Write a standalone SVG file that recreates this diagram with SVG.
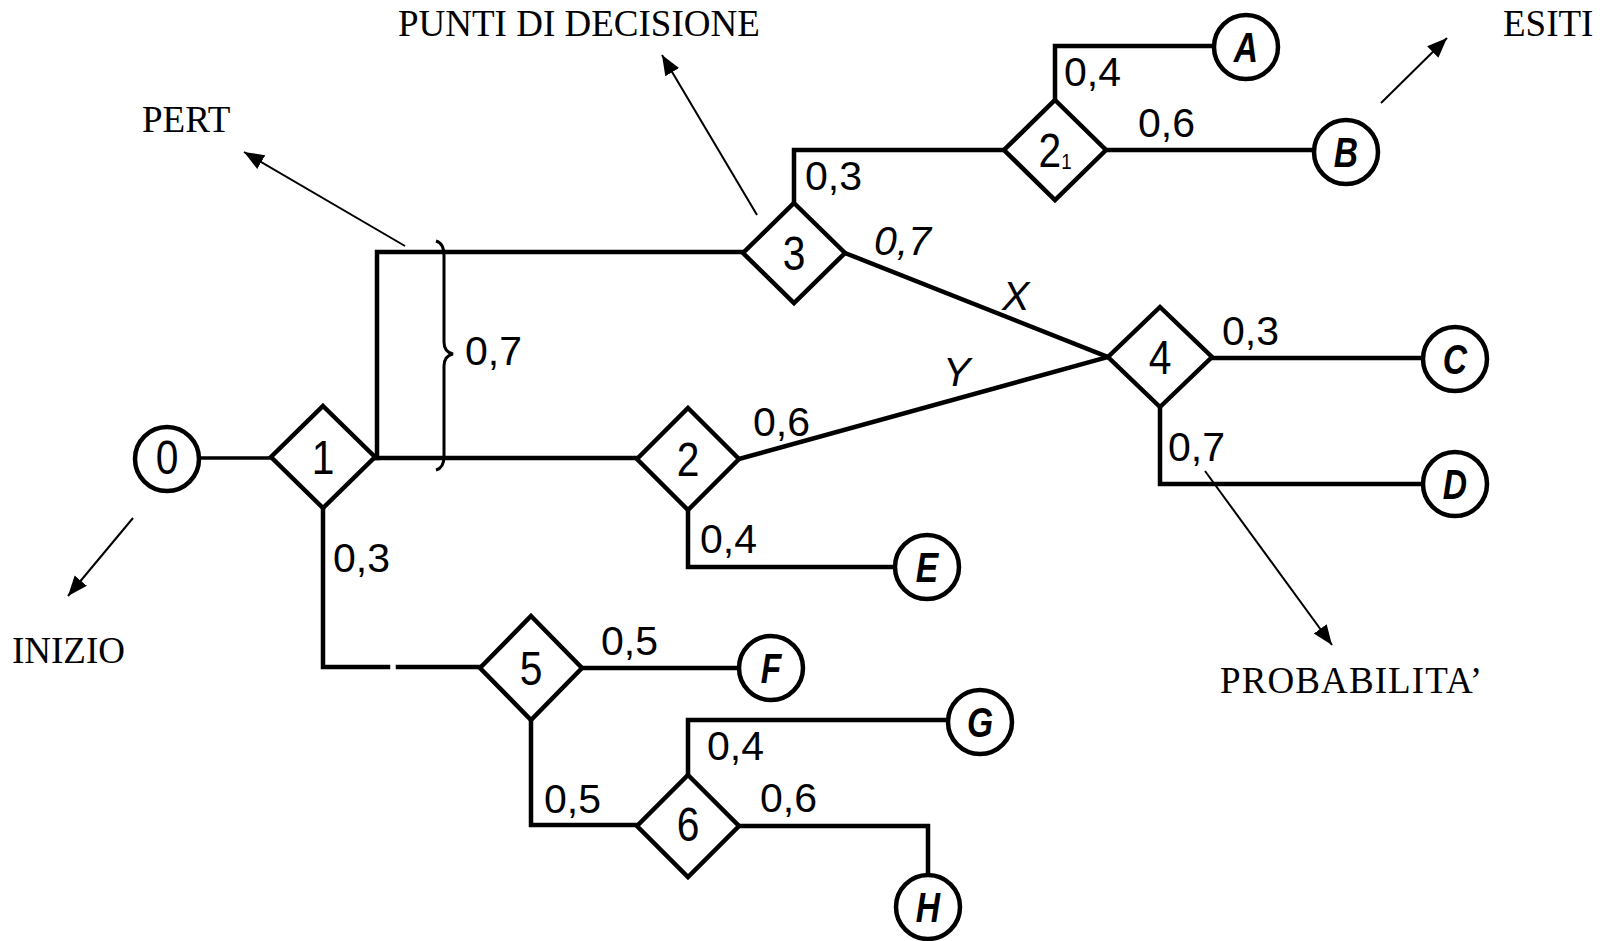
<svg xmlns="http://www.w3.org/2000/svg" width="1611" height="941" viewBox="0 0 1611 941">
<defs>
<marker id="ah" markerUnits="userSpaceOnUse" markerWidth="22" markerHeight="18" refX="20" refY="8" orient="auto">
<path d="M0,0 L20,8 L0,16 z" fill="#000"/>
</marker>
<style>
.ln{fill:none;stroke:#000;stroke-width:4.5;stroke-linejoin:miter;stroke-linecap:square}
.an{fill:none;stroke:#000;stroke-width:2;marker-end:url(#ah)}
.dm{fill:#fff;stroke:#000;stroke-width:4.5}
.cr{fill:#fff;stroke:#000;stroke-width:4.5}
.num{font-family:"Liberation Sans",Arial,sans-serif;font-size:48px;fill:#000;text-anchor:middle}
.let{font-family:"Liberation Sans",Arial,sans-serif;font-size:42px;font-weight:bold;font-style:italic;fill:#000;text-anchor:middle}
.p{font-family:"Liberation Sans",Arial,sans-serif;font-size:41px;fill:#000}
.pi{font-family:"Liberation Sans",Arial,sans-serif;font-size:41px;font-style:italic;fill:#000}
.t{font-family:"Liberation Serif","Times New Roman",serif;font-size:37px;fill:#000}
</style>
</defs>
<rect width="1611" height="941" fill="#fff"/>

<g id="connectors">
<path class="ln" style="stroke-width:3.5" d="M199,458 H271"/>
<path class="ln" d="M375,458 H637"/>
<path class="ln" d="M377,458 V252 H743"/>
<path class="ln" d="M794,203 V150 H1004"/>
<path class="ln" d="M1055,100 V46 H1213"/>
<path class="ln" d="M1106,150 H1314"/>
<path class="ln" d="M845,253 L1108,357"/>
<path class="ln" d="M739,459 L1108,357"/>
<path class="ln" d="M1212,358 H1423"/>
<path class="ln" d="M1160,407 V484 H1423"/>
<path class="ln" d="M688,510 V567 H895"/>
<path class="ln" d="M323,508 V667 H388"/>
<path class="ln" d="M398,667 H480"/>
<path class="ln" d="M582,668 H739"/>
<path class="ln" d="M531,720 V825 H637"/>
<path class="ln" d="M688,775 V720 H948"/>
<path class="ln" d="M739,826 H928 V876"/>
<path fill="none" stroke="#000" stroke-width="3" d="M436,241 Q444,243 444,256 L444,342 Q444,352 453,354 Q444,356 444,366 L444,456 Q444,468 436,470"/>
<line class="an" x1="405" y1="246" x2="244" y2="152"/>
<line class="an" x1="757" y1="215" x2="662" y2="55"/>
<line class="an" x1="1381" y1="103" x2="1447" y2="38"/>
<line class="an" x1="133" y1="518" x2="68" y2="596"/>
<line class="an" x1="1205" y1="471" x2="1332" y2="645"/>
</g>

<g id="n0"><circle class="cr" cx="167" cy="459" r="32"/><text class="num" transform="translate(167,474) scale(0.85,1)" font-size="44">0</text></g>
<g id="d1"><polygon class="dm" points="323,406 375,457 323,508 271,457"/><text class="num" transform="translate(323,474) scale(0.85,1)">1</text></g>
<g id="d2"><polygon class="dm" points="688,408 739,459 688,510 637,459"/><text class="num" transform="translate(688,476) scale(0.85,1)">2</text></g>
<g id="d3"><polygon class="dm" points="794,203 845,253 794,303 743,253"/><text class="num" transform="translate(794,270) scale(0.85,1)">3</text></g>
<g id="d21"><polygon class="dm" points="1055,100 1106,150 1055,200 1004,150"/><text class="num" transform="translate(1055,167) scale(0.85,1)">2<tspan font-size="22" dy="2">1</tspan></text></g>
<g id="d4"><polygon class="dm" points="1160,307 1212,357 1160,407 1108,357"/><text class="num" transform="translate(1160,374) scale(0.85,1)">4</text></g>
<g id="d5"><polygon class="dm" points="531,616 582,668 531,720 480,668"/><text class="num" transform="translate(531,685) scale(0.85,1)">5</text></g>
<g id="d6"><polygon class="dm" points="688,775 739,826 688,877 637,826"/><text class="num" transform="translate(688,841) scale(0.85,1)">6</text></g>

<g id="nA"><circle class="cr" cx="1246" cy="47" r="32"/><text class="let" transform="translate(1246,62) scale(0.8,1)">A</text></g>
<g id="nB"><circle class="cr" cx="1346" cy="152" r="32"/><text class="let" transform="translate(1346,167) scale(0.8,1)">B</text></g>
<g id="nC"><circle class="cr" cx="1455" cy="359" r="32"/><text class="let" transform="translate(1455,374) scale(0.8,1)">C</text></g>
<g id="nD"><circle class="cr" cx="1455" cy="484" r="32"/><text class="let" transform="translate(1455,499) scale(0.8,1)">D</text></g>
<g id="nE"><circle class="cr" cx="927" cy="567" r="32"/><text class="let" transform="translate(927,582) scale(0.8,1)">E</text></g>
<g id="nF"><circle class="cr" cx="771" cy="668" r="32"/><text class="let" transform="translate(771,683) scale(0.8,1)">F</text></g>
<g id="nG"><circle class="cr" cx="980" cy="722" r="32"/><text class="let" transform="translate(980,737) scale(0.8,1)">G</text></g>
<g id="nH"><circle class="cr" cx="928" cy="907" r="32"/><text class="let" transform="translate(928,922) scale(0.8,1)">H</text></g>

<g id="labels">
<text class="p" x="465" y="365">0,7</text>
<text class="p" x="805" y="190">0,3</text>
<text class="p" x="1064" y="86">0,4</text>
<text class="p" x="1138" y="137">0,6</text>
<text class="pi" x="874" y="255">0,7</text>
<text class="pi" x="1002" y="310">X</text>
<text class="pi" x="943" y="386">Y</text>
<text class="p" x="753" y="436">0,6</text>
<text class="p" x="1222" y="345">0,3</text>
<text class="p" x="1168" y="461">0,7</text>
<text class="p" x="700" y="553">0,4</text>
<text class="p" x="333" y="572">0,3</text>
<text class="p" x="601" y="655">0,5</text>
<text class="p" x="544" y="813">0,5</text>
<text class="p" x="707" y="760">0,4</text>
<text class="p" x="760" y="812">0,6</text>
</g>

<g id="annotations">
<text class="t" x="398" y="36">PUNTI DI DECISIONE</text>
<text class="t" x="142" y="132" font-size="38">PERT</text>
<text class="t" x="1503" y="36">ESITI</text>
<text class="t" x="12" y="663">INIZIO</text>
<text class="t" x="1220" y="693" textLength="262" lengthAdjust="spacing">PROBABILITA’</text>
</g>
</svg>
